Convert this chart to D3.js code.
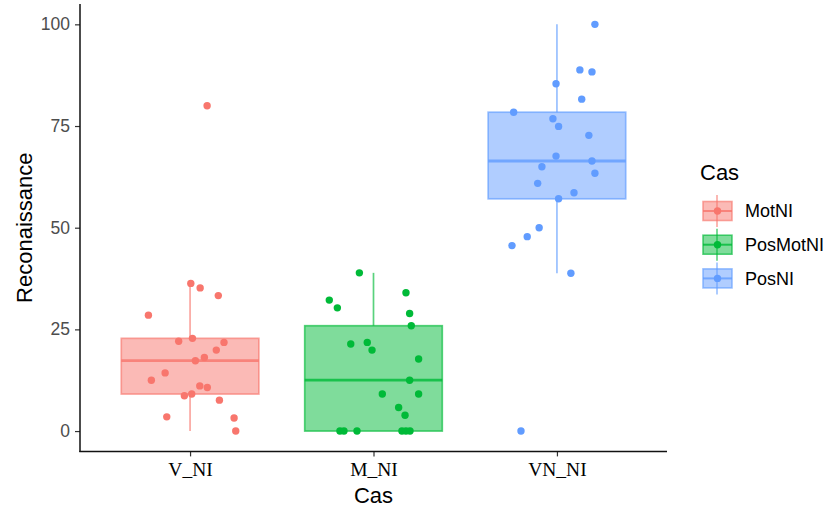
<!DOCTYPE html>
<html>
<head>
<meta charset="utf-8">
<script src="https://cdn.jsdelivr.net/npm/d3@7"></script>
<style>
  html, body { margin: 0; padding: 0; background: #fff; }
  svg { display: block; }
</style>
</head>
<body>
<svg id="chart" width="826" height="510"></svg>
<script>
// ---- data ----
const categories = ["V_NI", "M_NI", "VN_NI"];
const groups = ["MotNI", "PosMotNI", "PosNI"];
const groupColors = ["#F8766D", "#00BA38", "#619CFF"];
const yTicks = [0, 25, 50, 75, 100];

const motNIValues = [36.3, 35.2, 33.3, 28.5, 22.8, 22.1, 21.8, 19.9, 18.1, 17.3, 14.3, 12.5, 11.1, 10.7, 9.1, 8.7, 7.6, 3.5, 3.2, 0, 80];
const motNIJitter = [0.004, 0.055, 0.154, -0.227, 0.013, -0.062, 0.185, 0.143, 0.078, 0.029, -0.136, -0.211, 0.053, 0.094, 0.009, -0.031, 0.160, -0.127, 0.240, 0.249, 0.093];

const posMotNIValues = [38.9, 34.0, 32.2, 30.3, 28.9, 25.9, 21.8, 21.4, 19.9, 17.7, 12.5, 9.1, 9.1, 5.8, 3.9, 0, 0, 0, 0, 0, 0];
const posMotNIJitter = [-0.077, 0.177, -0.241, -0.197, 0.197, 0.206, -0.034, -0.124, -0.008, 0.246, 0.197, 0.048, 0.246, 0.137, 0.172, -0.183, -0.161, -0.090, 0.155, 0.177, 0.199];

const posNIValues = [100, 88.8, 88.3, 85.4, 81.6, 78.4, 76.8, 74.9, 72.7, 67.6, 66.4, 65.0, 63.4, 60.9, 58.6, 57.1, 50.0, 47.8, 45.6, 38.8, 0];
const posNIJitter = [0.207, 0.125, 0.191, -0.005, 0.135, -0.236, -0.022, 0.009, 0.174, -0.005, 0.191, -0.082, 0.207, -0.105, 0.093, 0.009, -0.097, -0.162, -0.245, 0.076, -0.196];

const seriesValues = [motNIValues, posMotNIValues, posNIValues];
const seriesJitter = [motNIJitter, posMotNIJitter, posNIJitter];

// ---- layout ----
const svg = d3.select("#chart");
const panel = { left: 80, right: 667, top: 4, bottom: 451.4 };

const x = d3.scalePoint().domain(categories).range([panel.left, panel.right]).padding(0.6);
const step = x.step();
const y = d3.scaleLinear().domain([-5, 105]).range([panel.bottom, panel.top]);
const boxW = 0.75 * step;

function stats(vals) {
  const s = vals.slice().sort(d3.ascending);
  const q1 = d3.quantile(s, 0.25), med = d3.quantile(s, 0.5), q3 = d3.quantile(s, 0.75);
  const iqr = q3 - q1;
  const lo = d3.min(s.filter(v => v >= q1 - 1.5 * iqr));
  const hi = d3.max(s.filter(v => v <= q3 + 1.5 * iqr));
  return { q1, med, q3, lo, hi };
}

// ---- boxes ----
categories.forEach((cat, i) => {
  const st = stats(seriesValues[i]);
  const cx = x(cat);
  const col = groupColors[i];
  const g = svg.append("g");
  g.append("line")
    .attr("x1", cx).attr("x2", cx).attr("y1", y(st.q3)).attr("y2", y(st.hi))
    .attr("stroke", col).attr("stroke-opacity", 0.65).attr("stroke-width", 1.7);
  g.append("line")
    .attr("x1", cx).attr("x2", cx).attr("y1", y(st.q1)).attr("y2", y(st.lo))
    .attr("stroke", col).attr("stroke-opacity", 0.65).attr("stroke-width", 1.7);
  g.append("rect")
    .attr("x", cx - boxW / 2).attr("width", boxW)
    .attr("y", y(st.q3)).attr("height", y(st.q1) - y(st.q3))
    .attr("fill", col).attr("fill-opacity", 0.5)
    .attr("stroke", col).attr("stroke-opacity", 0.65).attr("stroke-width", 1.7);
  g.append("line")
    .attr("x1", cx - boxW / 2).attr("x2", cx + boxW / 2)
    .attr("y1", y(st.med)).attr("y2", y(st.med))
    .attr("stroke", col).attr("stroke-opacity", 0.8).attr("stroke-width", 2.8);
});

// ---- jittered points ----
categories.forEach((cat, i) => {
  svg.append("g").selectAll("circle")
    .data(seriesValues[i].map((v, j) => ({ v, dx: seriesJitter[i][j] })))
    .join("circle")
    .attr("cx", d => x(cat) + d.dx * step)
    .attr("cy", d => y(d.v))
    .attr("r", 3.7)
    .attr("fill", groupColors[i]);
});

// ---- axes ----
const yAxis = svg.append("g")
  .attr("transform", `translate(${panel.left},0)`)
  .call(d3.axisLeft(y).tickValues(yTicks).tickSize(5).tickPadding(5));
yAxis.select(".domain").remove();
yAxis.selectAll(".tick line").attr("stroke", "#333").attr("stroke-width", 1.2);
yAxis.selectAll(".tick text")
  .attr("fill", "#4D4D4D").style("font-family", "Liberation Sans, Arial, sans-serif").style("font-size", "17.5px");

const xAxis = svg.append("g")
  .attr("transform", `translate(0,${panel.bottom})`)
  .call(d3.axisBottom(x).tickSize(5).tickPadding(6));
xAxis.select(".domain").remove();
xAxis.selectAll(".tick line").attr("stroke", "#333").attr("stroke-width", 1.2);
xAxis.selectAll(".tick text")
  .attr("fill", "#000").style("font-family", "Liberation Serif, Times New Roman, serif").style("font-size", "19.5px");

svg.append("line")
  .attr("x1", panel.left).attr("x2", panel.left).attr("y1", panel.top).attr("y2", panel.bottom + 0.7)
  .attr("stroke", "#111").attr("stroke-width", 1.5);
svg.append("line")
  .attr("x1", panel.left - 0.7).attr("x2", panel.right).attr("y1", panel.bottom).attr("y2", panel.bottom)
  .attr("stroke", "#111").attr("stroke-width", 1.5);

// axis titles
svg.append("text")
  .attr("x", (panel.left + panel.right) / 2).attr("y", 503)
  .attr("text-anchor", "middle")
  .style("font-family", "Liberation Sans, Arial, sans-serif").style("font-size", "22px").attr("fill", "#000")
  .text("Cas");
svg.append("text")
  .attr("transform", `translate(32,${(panel.top + panel.bottom) / 2}) rotate(-90)`)
  .attr("text-anchor", "middle")
  .style("font-family", "Liberation Sans, Arial, sans-serif").style("font-size", "22px").attr("fill", "#000")
  .text("Reconaissance");

// ---- legend ----
const legend = svg.append("g").attr("transform", "translate(700,0)");
legend.append("text")
  .attr("x", 0).attr("y", 180)
  .style("font-family", "Liberation Sans, Arial, sans-serif").style("font-size", "22px").attr("fill", "#000")
  .text("Cas");
groups.forEach((name, i) => {
  const cy = 211 + i * 33.7;
  const col = groupColors[i];
  const k = legend.append("g");
  k.append("line").attr("x1", 17).attr("x2", 17).attr("y1", cy - 16).attr("y2", cy + 16)
    .attr("stroke", col).attr("stroke-opacity", 0.65).attr("stroke-width", 1.6);
  k.append("rect").attr("x", 3).attr("y", cy - 9.5).attr("width", 29).attr("height", 19)
    .attr("fill", col).attr("fill-opacity", 0.5)
    .attr("stroke", col).attr("stroke-opacity", 0.65).attr("stroke-width", 1.6);
  k.append("line").attr("x1", 3).attr("x2", 32).attr("y1", cy).attr("y2", cy)
    .attr("stroke", col).attr("stroke-opacity", 0.8).attr("stroke-width", 2);
  k.append("circle").attr("cx", 17.5).attr("cy", cy).attr("r", 3.7).attr("fill", col);
  k.append("text").attr("x", 45).attr("y", cy).attr("dy", "0.35em")
    .style("font-family", "Liberation Sans, Arial, sans-serif").style("font-size", "18px").attr("fill", "#000")
    .text(name);
});
</script>
</body>
</html>
